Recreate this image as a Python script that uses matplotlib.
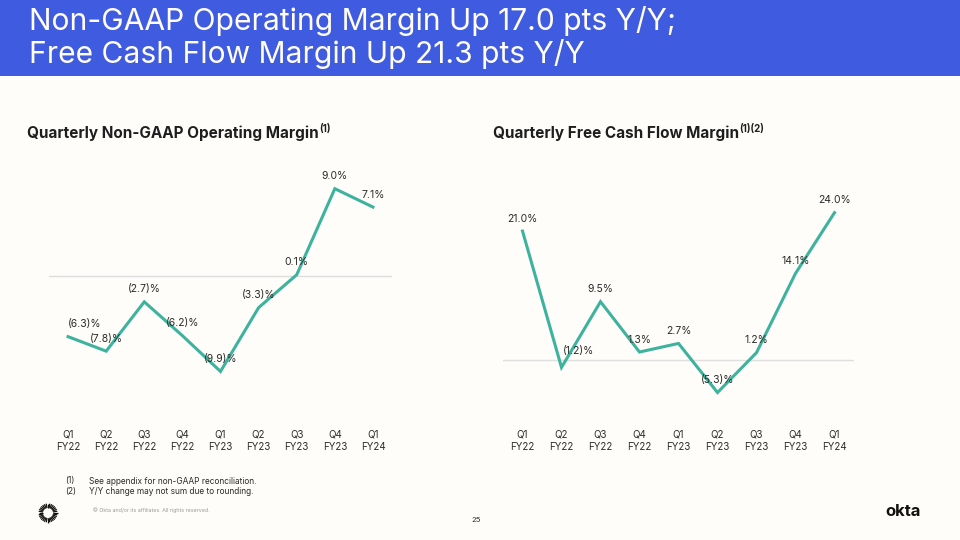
import numpy as np
import matplotlib
matplotlib.use('Agg')
from matplotlib import pyplot as plt
from matplotlib.patches import Rectangle

# data
quarters = ['Q1\nFY22', 'Q2\nFY22', 'Q3\nFY22', 'Q4\nFY22', 'Q1\nFY23',
            'Q2\nFY23', 'Q3\nFY23', 'Q4\nFY23', 'Q1\nFY24']
op_margin = [-6.3, -7.8, -2.7, -6.2, -9.9, -3.3, 0.1, 9.0, 7.1]
fcf_margin = [21.0, -1.2, 9.5, 1.3, 2.7, -5.3, 1.2, 14.1, 24.0]

title_lines = ['Non-GAAP Operating Margin Up 17.0 pts Y/Y;',
               'Free Cash Flow Margin Up 21.3 pts Y/Y']
footnotes = [('(1)', 'See appendix for non-GAAP reconciliation.'),
             ('(2)', 'Y/Y change may not sum due to rounding.')]

BG = '#FEFDF9'
BLUE = '#3F5BE0'
TEAL = '#3DB39E'
TXT = '#2B2B2B'

plt.rcParams['font.family'] = ['Inter', 'DejaVu Sans']


def fmt(v):
	if v < 0:
		return '(%.1f)%%' % abs(v)
	return '%.1f%%' % v


def line_panel(ax, values, ylim, nudges):
	x = np.arange(len(values))
	ax.set_facecolor('none')
	ax.axhline(0, color='#DEDEDE', lw=1, zorder=1)
	ax.plot(x, values, color=TEAL, lw=2.2, solid_joinstyle='miter', zorder=2)
	for i, v in enumerate(values):
		dx, dy = nudges.get(i, (0, 0))
		ax.annotate(fmt(v), (i, v), xytext=(dx, 9 + dy), textcoords='offset points',
					ha='center', va='center', fontsize=7.5, color=TXT, zorder=3)
	ax.set_xlim(-0.5, len(values) - 0.5)
	ax.set_ylim(*ylim)
	ax.set_xticks(x)
	ax.set_xticklabels(quarters, fontsize=7, color=TXT, linespacing=1.25)
	ax.tick_params(axis='x', length=0, pad=7)
	ax.set_yticks([])
	for s in ax.spines.values():
		s.set_visible(False)


def subtitle(ax, x, y, text, sup):
	t = ax.text(x, y, text, fontsize=11, fontweight='bold', color='#1E1E1E', va='center')
	fig.canvas.draw()
	bb = t.get_window_extent()
	x1, _ = ax.transData.inverted().transform((bb.x1, bb.y1))
	ax.text(x1 + 0.5, y - 4, sup, fontsize=7, fontweight='bold', color='#1E1E1E', va='center')


fig = plt.figure(figsize=(9.6, 5.4), dpi=100, facecolor=BG)

# overlay in pixel coords for banner, notes and logos
bg = fig.add_axes([0, 0, 1, 1])
bg.set_xlim(0, 960)
bg.set_ylim(540, 0)
bg.axis('off')
bg.add_patch(Rectangle((0, 0), 960, 75.5, color=BLUE, lw=0))
bg.text(29, 21, title_lines[0], fontsize=21.6, color='#FFFDF5', va='center')
bg.text(29, 54, title_lines[1], fontsize=21.6, color='#FFFDF5', va='center')

subtitle(bg, 27, 133, 'Quarterly Non-GAAP Operating Margin', '(1)')
subtitle(bg, 493, 133, 'Quarterly Free Cash Flow Margin', '(1)(2)')

for k, (num, note) in enumerate(footnotes):
	bg.text(65, 481 + 10.5 * k, num, fontsize=6, color=TXT, va='center')
	bg.text(89, 481 + 10.5 * k, note, fontsize=6, color=TXT, va='center')
bg.text(93, 510, '\u00a9 Okta and/or its affiliates. All rights reserved.',
		fontsize=3.8, color='#9A9A9A', va='center')
bg.text(476, 520, '25', fontsize=5.5, color=TXT, va='center', ha='center')
bg.text(903, 511, 'okta', fontsize=12, fontweight='bold', color='#111111',
		va='center', ha='center')

# sunburst logo
for a in np.deg2rad(np.arange(0, 360, 11.25)):
	bg.plot([48 + 5 * np.cos(a), 48 + 9.5 * np.cos(a)],
			[513 + 5 * np.sin(a), 513 + 9.5 * np.sin(a)],
			color='#111111', lw=0.9, solid_capstyle='butt')

ax1 = fig.add_axes([49 / 960, 120 / 540, 343 / 960, 255 / 540])
line_panel(ax1, op_margin, (-14.92, 11.45), {0: (12, 0)})

ax2 = fig.add_axes([503 / 960, 120 / 540, 351 / 960, 255 / 540])
line_panel(ax2, fcf_margin, (-9.77, 31.76), {1: (12, 3)})

fig.savefig('out.png', dpi=100, facecolor=BG)
